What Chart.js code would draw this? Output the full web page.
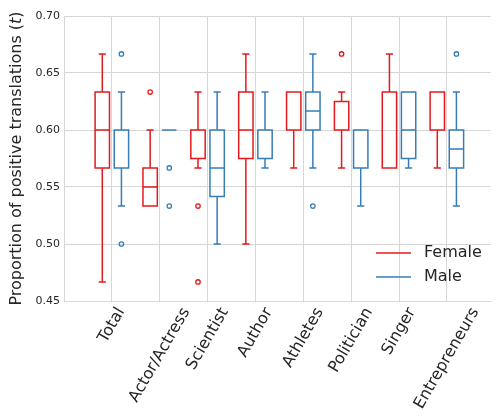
<!DOCTYPE html>
<html>
<head>
<meta charset="utf-8">
<script src="https://cdn.jsdelivr.net/npm/chart.js@4.4.0/dist/chart.umd.min.js"></script>
<style>
  html, body { margin: 0; padding: 0; background: #fff; }
  #wrap { width: 496px; height: 416px; }
</style>
</head>
<body>
<div id="wrap"><canvas id="boxChart" width="496" height="416"></canvas></div>
<script>
const categories = ['Total', 'Actor/Actress', 'Scientist', 'Author', 'Athletes', 'Politician', 'Singer', 'Entrepreneurs'];
const seriesNames = ['Female', 'Male'];

// [lower whisker, q1, median, q3, upper whisker]
const femaleStats = [
    [0.4667, 0.5667, 0.6000, 0.6333, 0.6667],
    [0.5333, 0.5333, 0.5500, 0.5667, 0.6000],
    [0.5667, 0.5750, 0.6000, 0.6000, 0.6333],
    [0.5000, 0.5750, 0.6000, 0.6333, 0.6667],
    [0.5667, 0.6000, 0.6333, 0.6333, 0.6333],
    [0.5667, 0.6000, 0.6000, 0.6250, 0.6333],
    [0.5667, 0.5667, 0.5667, 0.6333, 0.6667],
    [0.5667, 0.6000, 0.6333, 0.6333, 0.6333]
];
const maleStats = [
    [0.5333, 0.5667, 0.6000, 0.6000, 0.6333],
    [0.6000, 0.6000, 0.6000, 0.6000, 0.6000],
    [0.5000, 0.5417, 0.5667, 0.6000, 0.6333],
    [0.5667, 0.5750, 0.6000, 0.6000, 0.6333],
    [0.5667, 0.6000, 0.6167, 0.6333, 0.6667],
    [0.5333, 0.5667, 0.6000, 0.6000, 0.6000],
    [0.5667, 0.5750, 0.6000, 0.6333, 0.6333],
    [0.5333, 0.5667, 0.5833, 0.6000, 0.6333]
];
const femaleOutliers = [[], [0.6333], [0.5333, 0.4667], [], [], [0.6667], [], []];
const maleOutliers = [[0.6667, 0.5000], [0.5667, 0.5333], [], [], [0.5333], [], [], [0.6667]];

const yTicks = [0.45, 0.50, 0.55, 0.60, 0.65, 0.70];

const colors = ['#e41a1c', '#377eb8'];
const offsets = [-0.2, 0.2];
const gridColor = '#d6d6d6';
const textColor = '#262626';

function outlierPoints(list, off) {
    return list.flatMap((vals, i) => vals.map(v => ({ x: i + off, y: v })));
}

// боксы и усы рисуем сами, через шкалы графика
const boxPlugin = {
    id: 'boxes',
    beforeDatasetsDraw(chart) {
        const { ctx, scales: { x, y } } = chart;
        const groups = [femaleStats, maleStats];
        ctx.save();
        ctx.lineWidth = 1.5;
        groups.forEach((stats, s) => {
            ctx.strokeStyle = colors[s];
            stats.forEach((st, i) => {
                const [lo, q1, med, q3, hi] = st;
                const c = i + offsets[s];
                const cx = x.getPixelForValue(c);
                const left = x.getPixelForValue(c - 0.15);
                const right = x.getPixelForValue(c + 0.15);
                const capL = x.getPixelForValue(c - 0.075);
                const capR = x.getPixelForValue(c + 0.075);
                const yLo = y.getPixelForValue(lo);
                const yQ1 = y.getPixelForValue(q1);
                const yMed = y.getPixelForValue(med);
                const yQ3 = y.getPixelForValue(q3);
                const yHi = y.getPixelForValue(hi);
                ctx.beginPath();
                ctx.rect(left, yQ3, right - left, yQ1 - yQ3);
                ctx.moveTo(left, yMed); ctx.lineTo(right, yMed);
                if (yHi < yQ3) {
                    ctx.moveTo(cx, yQ3); ctx.lineTo(cx, yHi);
                    ctx.moveTo(capL, yHi); ctx.lineTo(capR, yHi);
                }
                if (yLo > yQ1) {
                    ctx.moveTo(cx, yQ1); ctx.lineTo(cx, yLo);
                    ctx.moveTo(capL, yLo); ctx.lineTo(capR, yLo);
                }
                ctx.stroke();
            });
        });
        ctx.restore();
    },
    afterDraw(chart) {
        const { ctx, chartArea, scales: { x } } = chart;
        ctx.save();
        ctx.fillStyle = textColor;

        // подписи категорий, повернутые на 60 градусов
        const ang = Math.PI / 3;
        ctx.font = '16px "DejaVu Sans"';
        ctx.textAlign = 'center';
        ctx.textBaseline = 'middle';
        categories.forEach((c, i) => {
            const tx = x.getPixelForValue(i);
            const w = ctx.measureText(c).width;
            const h = 16 * 1.17;
            const bh = w * Math.sin(ang) + h * Math.cos(ang);
            ctx.save();
            ctx.translate(tx, chartArea.bottom + 3.5 + bh / 2);
            ctx.rotate(-ang);
            ctx.fillText(c, 0, 0);
            ctx.restore();
        });

        // подпись оси Y с курсивной t
        const parts = [
            ['Proportion of positive translations (', '16px "DejaVu Sans"'],
            ['t', 'italic 16px "DejaVu Sans"'],
            [')', '16px "DejaVu Sans"']
        ];
        let total = 0;
        parts.forEach(p => { ctx.font = p[1]; total += ctx.measureText(p[0]).width; });
        ctx.save();
        ctx.translate(21, (chartArea.top + chartArea.bottom) / 2);
        ctx.rotate(-Math.PI / 2);
        ctx.textAlign = 'left';
        ctx.textBaseline = 'alphabetic';
        let pos = -total / 2;
        parts.forEach(p => {
            ctx.font = p[1];
            ctx.fillText(p[0], pos, 0);
            pos += ctx.measureText(p[0]).width;
        });
        ctx.restore();

        // легенда
        ctx.font = '16px "DejaVu Sans"';
        ctx.textAlign = 'left';
        ctx.textBaseline = 'middle';
        ctx.lineWidth = 1.5;
        seriesNames.forEach((name, s) => {
            const ly = 253 + s * 24;
            ctx.strokeStyle = colors[s];
            ctx.beginPath();
            ctx.moveTo(376, ly);
            ctx.lineTo(411, ly);
            ctx.stroke();
            ctx.fillStyle = textColor;
            ctx.fillText(name, 424, ly);
        });
        ctx.restore();
    }
};

const ctx = document.getElementById('boxChart').getContext('2d');
new Chart(ctx, {
    type: 'scatter',
    data: {
        datasets: seriesNames.map((name, s) => ({
            label: name,
            data: outlierPoints(s === 0 ? femaleOutliers : maleOutliers, offsets[s]),
            borderColor: colors[s],
            backgroundColor: 'rgba(255,255,255,0)',
            pointRadius: 2.2,
            borderWidth: 1.3
        }))
    },
    options: {
        responsive: false,
        animation: false,
        events: [],
        layout: { padding: { top: 16, right: 0, bottom: 0, left: 0 } },
        plugins: {
            legend: { display: false },
            tooltip: { enabled: false }
        },
        scales: {
            x: {
                type: 'linear',
                min: -1,
                max: 7.916,
                afterBuildTicks: scale => {
                    scale.ticks = categories.map((c, i) => ({ value: i }));
                },
                afterFit: scale => { scale.height = 115; },
                ticks: { display: false },
                grid: { color: gridColor, lineWidth: 1, drawTicks: false },
                border: { color: gridColor }
            },
            y: {
                min: 0.45,
                max: 0.70,
                afterBuildTicks: scale => {
                    scale.ticks = yTicks.map(v => ({ value: v }));
                },
                afterFit: scale => { scale.width = 64; },
                ticks: {
                    padding: 4,
                    color: textColor,
                    font: { family: 'DejaVu Sans', size: 11 },
                    callback: v => v.toFixed(2)
                },
                grid: { color: gridColor, lineWidth: 1, drawTicks: false },
                border: { color: gridColor }
            }
        }
    },
    plugins: [boxPlugin]
});
</script>
</body>
</html>
